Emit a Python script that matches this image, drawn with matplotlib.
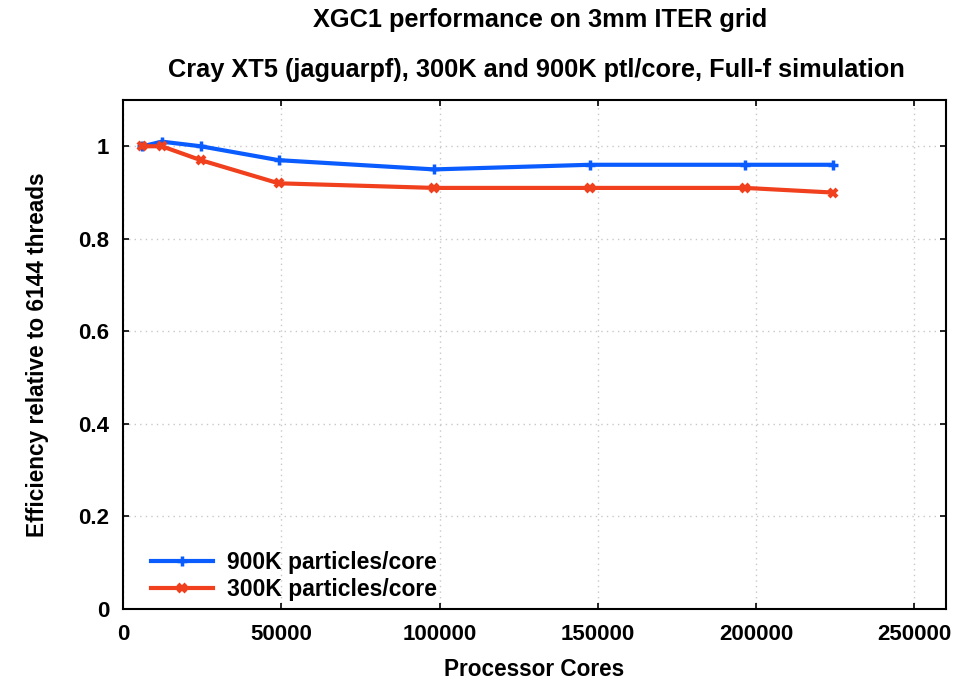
import matplotlib.pyplot as plt

plt.rcParams['font.family'] = ['Liberation Sans', 'DejaVu Sans']
plt.rcParams['font.weight'] = 'bold'

cores = [6144, 12288, 24576, 49152, 98304, 147456, 196608, 224256]
eff_900k = [1.0, 1.01, 1.0, 0.97, 0.95, 0.96, 0.96, 0.96]
eff_300k = [1.0, 1.0, 0.97, 0.92, 0.91, 0.91, 0.91, 0.90]
labels = ['900K particles/core', '300K particles/core']

fig = plt.figure(figsize=(9.56, 6.79), dpi=100)
ax = fig.add_axes([123 / 956, 70 / 679, 823 / 956, 509 / 679])

ax.plot(cores, eff_900k, color='#0a5cff', lw=3, marker='+', ms=7, mew=2.5, label=labels[0])
ax.plot(cores, eff_300k, color='#f0401e', lw=3, marker='x', ms=6, mew=3, label=labels[1])

ax.set_xlim(0, 260000)
ax.set_ylim(0, 1.1)
ax.set_xticks([0, 50000, 100000, 150000, 200000, 250000])
ax.set_yticks([0, 0.2, 0.4, 0.6, 0.8, 1.0])
ax.set_yticklabels(['0', '0.2', '0.4', '0.6', '0.8', '1'])
ax.grid(True, color='#c8c8c8', ls=(0, (1, 3)), lw=1)
ax.tick_params(direction='in', top=True, right=True, length=4.5, width=1.2, labelsize=16)
ax.tick_params(axis='x', pad=11)
ax.tick_params(axis='y', pad=10)
for s in ax.spines.values():
    s.set_linewidth(1.5)

ax.set_xlabel('Processor Cores', fontsize=16.3, fontweight='bold', labelpad=9)
ax.set_ylabel('Efficiency relative to 6144 threads', fontsize=16.3, fontweight='bold', labelpad=21)
fig.text(0.565, 0.9705, 'XGC1 performance on 3mm ITER grid', ha='center', va='center', fontsize=18.3, fontweight='bold')
fig.text(0.561, 0.897, 'Cray XT5 (jaguarpf), 300K and 900K ptl/core, Full-f simulation', ha='center', va='center',
         fontsize=18.3, fontweight='bold')

ax.legend(loc='lower left', frameon=False, fontsize=16.5, handlelength=2.7, handletextpad=0.6,
          borderaxespad=0, borderpad=0, labelspacing=0.2, bbox_to_anchor=(0.034, 0.015))

fig.savefig('out.png', dpi=100)
